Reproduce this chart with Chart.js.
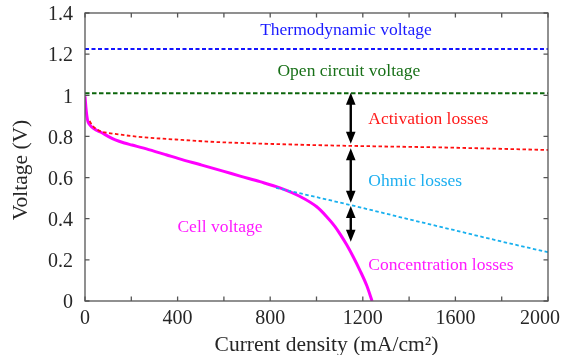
<!DOCTYPE html>
<html>
<head>
<meta charset="utf-8">
<script src="https://cdn.jsdelivr.net/npm/chart.js@4.4.1/dist/chart.umd.min.js"></script>
<style>
  html, body { margin: 0; padding: 0; background: #fff; }
  canvas { display: block; }
</style>
</head>
<body>
<canvas id="polarization" width="563" height="355"></canvas>
<script>
// Fuel cell polarization curve: current density (mA/cm²) vs voltage (V)
const cellCurrent = [0, 4, 8, 12, 18, 30, 50, 73, 100, 131, 170, 203, 275, 350, 405, 500, 600, 670, 756, 842, 929, 1001, 1044, 1080, 1102, 1131, 1159, 1188, 1217, 1240];
const cellVoltage = [0.995, 0.94, 0.90, 0.875, 0.86, 0.845, 0.830, 0.818, 0.800, 0.783, 0.768, 0.758, 0.736, 0.711, 0.692, 0.662, 0.630, 0.607, 0.580, 0.550, 0.508, 0.458, 0.410, 0.362, 0.325, 0.272, 0.214, 0.148, 0.075, 0.0];

const activationCurrent = [20, 30, 50, 73, 100, 131, 200, 275, 419, 563, 707, 851, 1024, 1250, 1519, 1750, 2000];
const activationVoltage = [0.875, 0.856, 0.835, 0.823, 0.817, 0.812, 0.802, 0.794, 0.783, 0.773, 0.767, 0.762, 0.757, 0.752, 0.747, 0.741, 0.734];

const ohmicCurrent = [825, 1000, 1200, 1400, 1600, 1800, 2000];
const ohmicVoltage = [0.550, 0.505, 0.452, 0.397, 0.343, 0.289, 0.237];

const currentRange = [0, 2000];
const thermodynamicVoltage = 1.225;
const openCircuitVoltage = 1.01;

const xTickLabels = [0, 400, 800, 1200, 1600, 2000];
const yTickLabels = ['0', '0.2', '0.4', '0.6', '0.8', '1', '1.2', '1.4'];

// Double-headed arrows marking each loss band at one current density
const lossArrowCurrent = 1148;
const lossArrowSpans = [[1.012, 0.765], [0.742, 0.478], [0.462, 0.288]];

const annotations = [
  { text: 'Thermodynamic voltage', x: 1127, y: 1.317, color: '#1a1aff', align: 'center' },
  { text: 'Open circuit voltage', x: 1140, y: 1.115, color: '#187018', align: 'center' },
  { text: 'Activation losses', x: 1224, y: 0.883, color: '#ff1a1a', align: 'left' },
  { text: 'Ohmic losses', x: 1224, y: 0.580, color: '#1eaff0', align: 'left' },
  { text: 'Concentration losses', x: 1224, y: 0.175, color: '#ff1aff', align: 'left' },
  { text: 'Cell voltage', x: 583, y: 0.358, color: '#ff1aff', align: 'center' }
];

const SERIF = '"Liberation Serif", "Times New Roman", serif';
const AXIS_COLOR = '#555555';
const TEXT_COLOR = '#262626';

const toPoints = (xs, ys) => xs.map((x, i) => ({ x, y: ys[i] }));
const flatLine = (v) => currentRange.map(x => ({ x, y: v }));

const lineDefaults = { pointRadius: 0, pointHoverRadius: 0, fill: false, cubicInterpolationMode: 'monotone' };

const decorations = {
  id: 'decorations',
  afterDatasetsDraw(chart) {
    const { ctx, chartArea: a, scales: { x, y } } = chart;
    ctx.save();

    // Loss arrows
    ctx.fillStyle = '#000';
    ctx.strokeStyle = '#000';
    ctx.lineWidth = 2.4;
    const ax = x.getPixelForValue(lossArrowCurrent);
    const head = 12, half = 4.8;
    lossArrowSpans.forEach(([top, bottom]) => {
      const y1 = y.getPixelForValue(top);
      const y2 = y.getPixelForValue(bottom);
      ctx.beginPath();
      ctx.moveTo(ax, y1 + head - 1);
      ctx.lineTo(ax, y2 - head + 1);
      ctx.stroke();
      ctx.beginPath();
      ctx.moveTo(ax, y1);
      ctx.lineTo(ax - half, y1 + head);
      ctx.lineTo(ax + half, y1 + head);
      ctx.closePath();
      ctx.fill();
      ctx.beginPath();
      ctx.moveTo(ax, y2);
      ctx.lineTo(ax - half, y2 - head);
      ctx.lineTo(ax + half, y2 - head);
      ctx.closePath();
      ctx.fill();
    });

    // In-plot text labels
    ctx.font = '17.5px ' + SERIF;
    ctx.textBaseline = 'middle';
    annotations.forEach(t => {
      ctx.fillStyle = t.color;
      ctx.textAlign = t.align;
      ctx.fillText(t.text, x.getPixelForValue(t.x), y.getPixelForValue(t.y));
    });

    // Axes box
    ctx.strokeStyle = AXIS_COLOR;
    ctx.lineWidth = 1.3;
    ctx.strokeRect(a.left, a.top, a.right - a.left, a.bottom - a.top);

    // Inward tick marks on all four sides
    const tl = 4.5;
    ctx.beginPath();
    x.ticks.forEach(t => {
      const px = x.getPixelForValue(t.value);
      ctx.moveTo(px, a.bottom); ctx.lineTo(px, a.bottom - tl);
      ctx.moveTo(px, a.top); ctx.lineTo(px, a.top + tl);
    });
    y.ticks.forEach(t => {
      const py = y.getPixelForValue(t.value);
      ctx.moveTo(a.left, py); ctx.lineTo(a.left + tl, py);
      ctx.moveTo(a.right, py); ctx.lineTo(a.right - tl, py);
    });
    ctx.stroke();

    // x tick labels, kept inside the canvas
    ctx.font = '20px ' + SERIF;
    ctx.fillStyle = TEXT_COLOR;
    ctx.textAlign = 'left';
    ctx.textBaseline = 'alphabetic';
    xTickLabels.forEach(v => {
      const s = String(v);
      const w = ctx.measureText(s).width;
      let left = x.getPixelForValue(v) - w / 2;
      left = Math.min(left, chart.width - 3 - w);
      ctx.fillText(s, left, a.bottom + 22.5);
    });

    // Axis titles
    ctx.font = '21.5px ' + SERIF;
    ctx.textAlign = 'center';
    ctx.fillText('Current density (mA/cm²)', (a.left + a.right) / 2 + 10, a.bottom + 50);
    ctx.save();
    ctx.translate(27, (a.top + a.bottom) / 2 + 13);
    ctx.rotate(-Math.PI / 2);
    ctx.fillText('Voltage (V)', 0, 0);
    ctx.restore();

    ctx.restore();
  }
};

new Chart(document.getElementById('polarization'), {
  type: 'line',
  data: {
    datasets: [
      { ...lineDefaults, label: 'Thermodynamic voltage', data: flatLine(thermodynamicVoltage),
        borderColor: '#1414ff', borderWidth: 2.2, borderDash: [4, 2.5] },
      { ...lineDefaults, label: 'Open circuit voltage', data: flatLine(openCircuitVoltage),
        borderColor: '#0b650b', borderWidth: 2.2, borderDash: [4.5, 2.5] },
      { ...lineDefaults, label: 'Activation', data: toPoints(activationCurrent, activationVoltage),
        borderColor: '#ff1010', borderWidth: 1.8, borderDash: [3.5, 2.5] },
      { ...lineDefaults, label: 'Ohmic', data: toPoints(ohmicCurrent, ohmicVoltage),
        borderColor: '#18b0ee', borderWidth: 1.8, borderDash: [3.5, 2.5] },
      { ...lineDefaults, label: 'Cell voltage', data: toPoints(cellCurrent, cellVoltage),
        borderColor: '#ff00ff', borderWidth: 3 }
    ]
  },
  options: {
    responsive: false,
    animation: false,
    devicePixelRatio: 1,
    layout: { padding: { top: 13, right: 15, left: 0, bottom: 0 } },
    plugins: { legend: { display: false }, tooltip: { enabled: false } },
    scales: {
      x: {
        type: 'linear',
        min: currentRange[0],
        max: currentRange[1],
        grid: { display: false, drawTicks: false },
        border: { display: false },
        ticks: { stepSize: 200, display: false },
        afterFit(scale) { scale.height = 54; scale.paddingLeft = 0; scale.paddingRight = 0; }
      },
      y: {
        min: 0,
        max: 1.4,
        grid: { display: false, drawTicks: false },
        border: { display: false },
        ticks: {
          stepSize: 0.2,
          padding: 12,
          labelOffset: 2,
          color: TEXT_COLOR,
          font: { family: SERIF, size: 20 },
          callback: (value, index) => yTickLabels[index]
        },
        afterFit(scale) { scale.width = 85; scale.paddingTop = 0; scale.paddingBottom = 0; }
      }
    }
  },
  plugins: [decorations]
});
</script>
</body>
</html>
